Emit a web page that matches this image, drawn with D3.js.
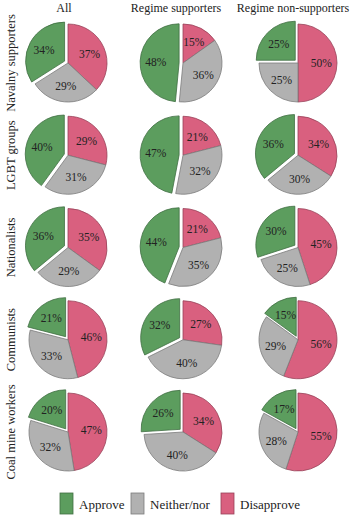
<!DOCTYPE html>
<html><head><meta charset="utf-8">
<script src="https://cdn.jsdelivr.net/npm/d3@7"></script>
<style>body{margin:0;background:#fff}svg{display:block}
svg text{font-family:"Liberation Serif","Times New Roman",serif;fill:#222}</style>
</head><body>
<script>
const columns = ["All", "Regime supporters", "Regime non-supporters"];
const rows = ["Navalny supporters", "LGBT groups", "Nationalists", "Communists", "Coal mine workers"];
const categories = ["Approve", "Neither/nor", "Disapprove"];
// values per row, per column: [approve, neither, disapprove]
const navalny = [[34,29,37],[48,36,15],[25,25,50]];
const lgbt = [[40,31,29],[47,32,21],[36,30,34]];
const nationalists = [[36,29,35],[44,35,21],[30,25,45]];
const communists = [[21,33,46],[32,40,27],[15,29,56]];
const coal = [[20,32,47],[26,40,34],[17,28,55]];
const data = [navalny, lgbt, nationalists, communists, coal];
const colors = ["#5c9d5e", "#b1b1b1", "#d9607f"];

const W = 350, H = 516;
const svg = d3.select("body").append("svg").attr("width", W).attr("height", H);

const x = d3.scalePoint().domain(columns).range([68, 298]);
const y = d3.scalePoint().domain(rows).range([63, 432]);
const r = 39;
const color = d3.scaleOrdinal().domain(categories).range(colors);
const titleShift = [-4, -7, -5];

// column titles
svg.selectAll(".ct").data(columns).join("text")
  .attr("x", (d, i) => x(d) + titleShift[i]).attr("y", 12)
  .attr("text-anchor", "middle").attr("font-size", 12)
  .text(d => d);

// row labels
svg.selectAll(".rl").data(rows).join("text")
  .attr("transform", d => `translate(15,${y(d)}) rotate(-90)`)
  .attr("text-anchor", "middle").attr("font-size", 12.5)
  .text(d => d);

const pie = d3.pie().sort(null).value(d => d.v);
const arc = d3.arc().innerRadius(0).outerRadius(r);

rows.forEach((row, ri) => {
  columns.forEach((col, ci) => {
    const vals = data[ri][ci];
    const items = [
      {k: categories[2], v: vals[2]},
      {k: categories[1], v: vals[1]},
      {k: categories[0], v: vals[0]}
    ];
    const arcs = pie(items);
    const g = svg.append("g").attr("transform", `translate(${x(col)},${y(row)})`);
    arcs.forEach(a => {
      const mid = (a.startAngle + a.endAngle) / 2;
      const off = a.data.k === "Approve" ? 0.1 * r : 0;
      const dx = Math.sin(mid) * off, dy = -Math.cos(mid) * off;
      const c = color(a.data.k);
      g.append("path").attr("d", arc(a))
        .attr("transform", `translate(${dx},${dy})`)
        .attr("fill", c).attr("stroke", d3.color(c).darker(1)).attr("stroke-width", 0.8)
        .attr("stroke-linejoin", "round");
      const lr = 0.6 * r + off;
      g.append("text")
        .attr("x", Math.sin(mid) * lr).attr("y", -Math.cos(mid) * lr)
        .attr("dy", "0.35em").attr("text-anchor", "middle")
        .attr("font-size", 11.5)
        .text(a.data.v + "%");
    });
  });
});

// legend
const lx = [60, 131, 221];
const lg = svg.selectAll(".lg").data(categories).join("g")
  .attr("transform", (d, i) => `translate(${lx[i]},493)`);
lg.append("rect").attr("width", 13).attr("height", 21)
  .attr("fill", d => color(d)).attr("stroke", d => d3.color(color(d)).darker(1)).attr("stroke-width", 0.8);
lg.append("text").attr("x", 19).attr("y", 11).attr("dy", "0.35em")
  .attr("font-size", 13).text(d => d);
</script>
</body></html>
